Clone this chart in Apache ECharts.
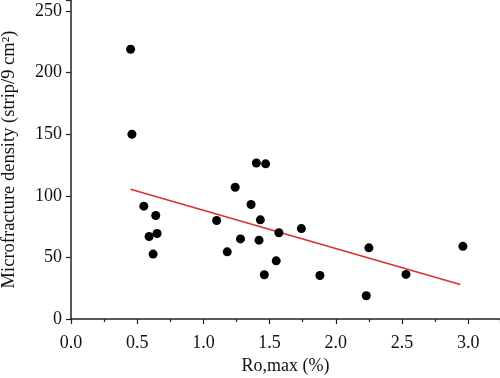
<!DOCTYPE html>
<html>
<head>
<meta charset="utf-8">
<script src="https://cdn.jsdelivr.net/npm/echarts@6/dist/echarts.min.js"></script>
<style>
  html, body { margin: 0; padding: 0; background: #fff; }
  #chart { width: 500px; height: 378px; }
</style>
</head>
<body>
<div id="chart"></div>
<script>
// Ro,max (%) vs microfracture density
var roMax = [0.45, 0.46, 0.55, 0.59, 0.62, 0.64, 0.65, 1.10, 1.18, 1.24, 1.28, 1.36, 1.40, 1.42, 1.43, 1.46, 1.47, 1.55, 1.57, 1.74, 1.88, 2.23, 2.25, 2.53, 2.96];
var density = [219, 150, 91.6, 67, 52.7, 84, 69.4, 80, 54.5, 107, 65, 93, 126.7, 64, 80.5, 35.9, 126, 47.2, 70, 73.4, 35.3, 18.9, 57.8, 36.2, 59];
// fitted line end points
var fitX = [0.45, 2.94];
var fitY = [105.3, 28];

var points = [];
for (var i = 0; i < roMax.length; i++) {
    points.push([roMax[i], density[i]]);
}
var fitLine = [];
for (var j = 0; j < fitX.length; j++) {
    fitLine.push([fitX[j], fitY[j]]);
}

var font = 'Liberation Serif';
var myChart = echarts.init(document.getElementById('chart'));
var option = {
    animation: false,
    backgroundColor: '#fff',
    grid: { left: 71, top: 0, right: 0, bottom: 59, outerBoundsMode: 'none', containLabel: false },
    xAxis: {
        type: 'value',
        min: 0,
        max: 3.24,
        interval: 0.5,
        name: 'Ro,max (%)',
        nameLocation: 'middle',
        nameGap: 37,
        nameTextStyle: { fontFamily: font, fontSize: 18, color: '#111', verticalAlign: 'top' },
        axisLine: { show: true, onZero: false, lineStyle: { color: '#222', width: 1.5 } },
        axisTick: { show: true, length: 5, lineStyle: { color: '#222', width: 1.2 } },
        minorTick: { show: true, splitNumber: 2, length: 3, lineStyle: { color: '#222', width: 1.2 } },
        axisLabel: {
            margin: 15,
            fontFamily: font, fontSize: 18, color: '#111',
            formatter: function (v) {
                return Math.abs(v * 2 - Math.round(v * 2)) < 1e-6 ? v.toFixed(1) : '';
            }
        },
        splitLine: { show: false }
    },
    yAxis: {
        type: 'value',
        min: 0,
        max: 259,
        interval: 50,
        name: 'Microfracture density (strip/9 cm²)',
        nameLocation: 'middle',
        nameGap: 52,
        nameTextStyle: { fontFamily: font, fontSize: 18.5, color: '#111' },
        axisLine: { show: true, onZero: false, lineStyle: { color: '#222', width: 1.5 } },
        axisTick: { show: true, length: 5, lineStyle: { color: '#222', width: 1.2 } },
        axisLabel: {
            margin: 9,
            fontFamily: font, fontSize: 18, color: '#111',
            formatter: function (v) {
                return v % 50 === 0 ? String(v) : '';
            }
        },
        splitLine: { show: false }
    },
    series: [
        {
            type: 'line',
            data: fitLine,
            symbol: 'none',
            lineStyle: { color: '#d9312b', width: 1.5 },
            z: 2
        },
        {
            type: 'scatter',
            data: points,
            symbol: 'circle',
            symbolSize: 9,
            itemStyle: { color: '#000', opacity: 1 },
            z: 3
        }
    ]
};
myChart.setOption(option);
</script>
</body>
</html>
